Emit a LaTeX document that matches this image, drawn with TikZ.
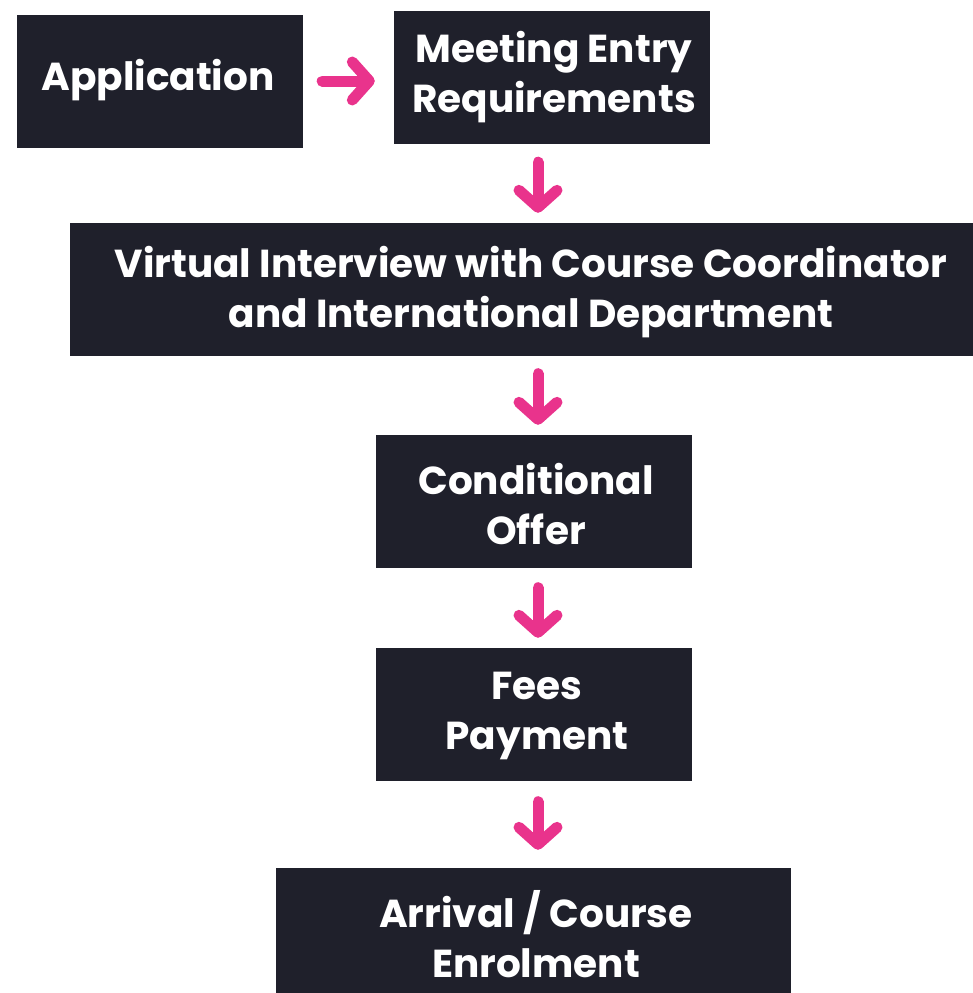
\documentclass[tikz,border=0pt]{standalone}
\usepackage{fontspec}
\setmainfont{Poppins}
\usetikzlibrary{arrows.meta}
\definecolor{boxbg}{HTML}{1F202B}
\definecolor{pinkarr}{HTML}{E9338C}
\tikzset{
  box/.style={fill=boxbg, draw=none, inner sep=0pt, minimum height=133pt},
  lbl/.style={text=white, font=\fontsize{39}{50}\selectfont\bfseries, align=center, inner sep=0pt},
  arr/.style={draw=pinkarr, line width=11pt, line cap=round, line join=round,
    -{Straight Barb[round, length=17pt, width=38pt]}},
}
\begin{document}
\begin{tikzpicture}[x=1pt, y=-1pt]
\useasboundingbox (0,0) rectangle (973,993);
% boxes
\node[box, minimum width=286pt] (app) at (160,81.5) {};
\node[box, minimum width=316pt] (meet) at (552,77.5) {};
\node[box, minimum width=903pt] (virt) at (521.5,289.5) {};
\node[box, minimum width=316pt] (cond) at (534,501.5) {};
\node[box, minimum width=316pt] (fees) at (534,714.5) {};
\node[box, minimum width=515pt, minimum height=125pt] (arrv) at (533.5,930.5) {};
% labels
\node[lbl] (tapp) at (158,80) {Application};
\node[lbl] (tmeet) at (554,77) {Meeting Entry\\Requirements};
\node[lbl] (tvirt) at (531,292) {Virtual Interview with Course Coordinator\\and International Department};
\node[lbl] (tcond) at (536,504) {Conditional\\Offer};
\node[lbl] (tfees) at (537,716) {Fees\\Payment};
\node[lbl] (tarrv) at (536,934) {Arrival / Course\\Enrolment};
% connectors
\draw[arr, shorten <=19pt, shorten >=19pt] (app.east |- 0,81) -- (meet.west |- 0,81);
\draw[arr, shorten <=18pt, shorten >=10pt] (meet.south -| 538,0) -- (virt.north -| 538,0);
\draw[arr, shorten <=17.5pt, shorten >=10pt] (virt.south -| 538,0) -- (cond.north -| 538,0);
\draw[arr, shorten <=19.5pt, shorten >=10pt] (cond.south -| 538,0) -- (fees.north -| 538,0);
\draw[arr, shorten <=20.5pt, shorten >=18pt] (fees.south -| 538,0) -- (arrv.north -| 538,0);
\end{tikzpicture}
\end{document}
